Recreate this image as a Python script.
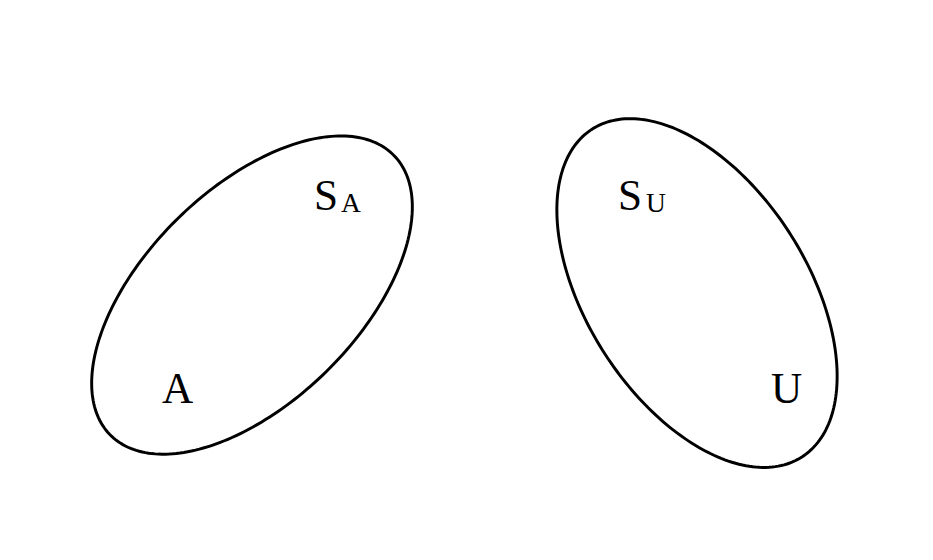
import numpy as np, pandas as pd, altair as alt

# ellipse parameters: id, cx, cy, semi-major, semi-minor, angle (deg, screen coords)
ell_id = ["left", "right"]
ell_cx = [252, 697]
ell_cy = [287, 285]
ell_a = [198, 193]
ell_b = [106, 110]
ell_ang = [-44, 56.8]

rows = []
t = np.linspace(0, 2 * np.pi, 241)
for i, cx, cy, a, b, ang in zip(ell_id, ell_cx, ell_cy, ell_a, ell_b, ell_ang):
    th = np.radians(ang)
    for k, tt in enumerate(t):
        x = cx + a * np.cos(tt) * np.cos(th) - b * np.sin(tt) * np.sin(th)
        y = cy + a * np.cos(tt) * np.sin(th) + b * np.sin(tt) * np.cos(th)
        rows.append({"id": i, "k": k, "x": x, "y": y})
ell = pd.DataFrame(rows)

labels = ["S", "A", "A", "S", "U", "U"]
lab_x = [314, 341, 162, 618, 646, 771]
lab_y = [203, 205, 394, 203, 205, 394]
lab_size = [44, 28, 44, 44, 28, 44]
txt = pd.DataFrame({"t": labels, "x": lab_x, "y": lab_y, "s": lab_size})

X = alt.X("x:Q", scale=alt.Scale(domain=[8, 925]), axis=None)
Y = alt.Y("y:Q", scale=alt.Scale(domain=[8, 552], reverse=True), axis=None)

lines = alt.Chart(ell).mark_line(color="black", strokeWidth=3).encode(
    x=X, y=Y, detail="id:N", order="k:Q")
text = alt.Chart(txt).mark_text(font="Liberation Serif", align="left", baseline="alphabetic",
                                color="black").encode(
    x=X, y=Y, text="t:N", size=alt.Size("s:Q", scale=None, legend=None))

chart = alt.layer(lines, text).properties(
    width=933, height=560, padding=0,
    autosize=alt.AutoSizeParams(type="fit", contains="padding")
).configure_view(stroke=None)
chart.save("out.html", embed_options={"renderer": "svg", "actions": False})
